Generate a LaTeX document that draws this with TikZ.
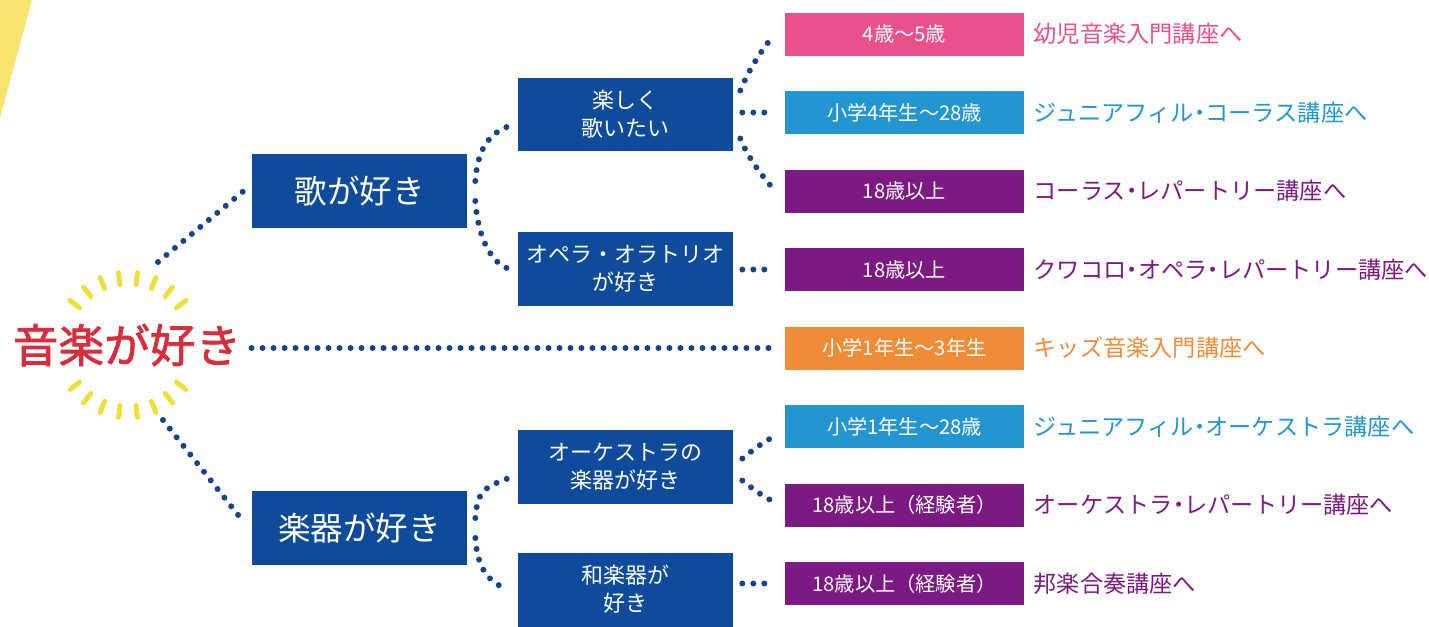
\documentclass[tikz,border=0pt]{standalone}
\usepackage{fontspec}
\setmainfont{Noto Sans CJK JP}
\newfontfamily\halffont{Noto Sans CJK JP}[RawFeature=+halt]
\newfontfamily\titlefont{Noto Sans CJK JP}[FakeBold=1.6]
\definecolor{boxnavy}{RGB}{14, 75, 155}
\definecolor{dotnavy}{RGB}{22, 68, 135}
\definecolor{agepink}{RGB}{233, 80, 140}
\definecolor{agesky}{RGB}{35, 150, 210}
\definecolor{agepurple}{RGB}{125, 25, 130}
\definecolor{ageorange}{RGB}{240, 140, 55}
\definecolor{mainred}{RGB}{215, 45, 60}
\definecolor{rayyellow}{RGB}{240, 222, 60}
\definecolor{stripeyellow}{RGB}{248, 228, 110}
\usetikzlibrary{positioning, calc}

\tikzset{
  dotline/.style={dotnavy, line width=0.12cm, line cap=round, dash pattern=on 0cm off 0.22cm},
  ray/.style={rayyellow, line width=0.1cm, line cap=round},
  wantbox/.style={fill=boxnavy, text=white, minimum width=4.3cm, minimum height=1.48cm, inner sep=0pt, align=center},
  agebox/.style={fill=#1, text=white, minimum width=4.78cm, minimum height=0.86cm, inner sep=0pt, font=\fontsize{11.5}{13}\selectfont},
  course/.style={text=#1, inner sep=0pt, font=\halffont\fontsize{13.2}{15}\selectfont},
}

\begin{document}
\begin{tikzpicture}[x=0.02cm, y=-0.02cm]
  \useasboundingbox (0,0) rectangle (1429,626);

  % Yellow stripe
  \fill[stripeyellow] (0,0) -- (32,0) -- (0,118) -- cycle;

  % Title with glow
  \coordinate (glow) at (128,345);
  \foreach \a in {37.5,52.5,...,142.5} {
    \draw[ray] ([shift={(\a:61)}]glow) -- ([shift={(\a:73)}]glow);
    \draw[ray] ([shift={(\a+180:61)}]glow) -- ([shift={(\a+180:73)}]glow);
  }
  \node[text=mainred, inner sep=0pt, font=\titlefont\fontsize{26}{30}\selectfont] (main) at (127,345) {音楽が好き};

  % First choice
  \node[wantbox, font=\fontsize{18.5}{20}\selectfont] (sing) at (359.5,191) {歌が好き};
  \node[wantbox, font=\fontsize{18.5}{20}\selectfont] (inst) at (359.5,528) {楽器が好き};

  % Second choice
  \node[wantbox, font=\fontsize{12.5}{16}\selectfont] (fun) at (625.5,114.5) {楽しく\\歌いたい};
  \node[wantbox, font=\fontsize{12.5}{16}\selectfont] (opera) at (625.5,268.5) {オペラ・オラトリオ\\が好き};
  \node[wantbox, font=\fontsize{12.5}{16}\selectfont] (orch) at (625.5,466.5) {オーケストラの\\楽器が好き};
  \node[wantbox, font=\fontsize{12.5}{16}\selectfont] (wagak) at (625.5,589.5) {和楽器が\\好き};

  % Ages
  \node[agebox=agepink] (a1) at (904.5,34) {4歳～5歳};
  \node[agebox=agesky] (a2) at (904.5,112.5) {小学4年生～28歳};
  \node[agebox=agepurple] (a3) at (904.5,191) {18歳以上};
  \node[agebox=agepurple] (a4) at (904.5,269.5) {18歳以上};
  \node[agebox=ageorange] (a5) at (904.5,348) {小学1年生～3年生};
  \node[agebox=agesky] (a6) at (904.5,426.5) {小学1年生～28歳};
  \node[agebox=agepurple] (a7) at (904.5,505) {18歳以上（経験者）};
  \node[agebox=agepurple] (a8) at (904.5,583.5) {18歳以上（経験者）};

  % Courses
  \node[course=agepink, right=0.18cm of a1] (c1) {幼児音楽入門講座へ};
  \node[course=agesky, right=0.18cm of a2] (c2) {ジュニアフィル・コーラス講座へ};
  \node[course=agepurple, right=0.18cm of a3] (c3) {コーラス・レパートリー講座へ};
  \node[course=agepurple, right=0.18cm of a4] (c4) {クワコロ・オペラ・レパートリー講座へ};
  \node[course=ageorange, right=0.18cm of a5] (c5) {キッズ音楽入門講座へ};
  \node[course=agesky, right=0.18cm of a6] (c6) {ジュニアフィル・オーケストラ講座へ};
  \node[course=agepurple, right=0.18cm of a7] (c7) {オーケストラ・レパートリー講座へ};
  \node[course=agepurple, right=0.18cm of a8] (c8) {邦楽合奏講座へ};

  % Root branches
  \draw[dotline] ([shift={(30,-83)}]glow) -- ([shift={(-8,0)}]sing.west);
  \draw[dotline] ($(main.east |- a5.west)+(10,0)$) -- ([shift={(-8,0)}]a5.west);
  \draw[dotline] ([shift={(35,75)}]glow) -- ([shift={(-8,-6)}]inst.west);

  % First -> second
  \draw[dotline] ([shift={(8,-10)}]sing.east) .. controls +(2,-30) and +(-20,8) .. ([shift={(-10,12)}]fun.west);
  \draw[dotline] ([shift={(8,10)}]sing.east) .. controls +(2,30) and +(-20,-8) .. ([shift={(-10,0)}]opera.west);
  \draw[dotline] ([shift={(8,-10)}]inst.east) .. controls +(2,-30) and +(-20,8) .. ([shift={(-10,12)}]orch.west);
  \draw[dotline] ([shift={(8,10)}]inst.east) .. controls +(2,30) and +(-20,-8) .. ([shift={(-10,0)}]wagak.west);

  % Second -> ages
  \draw[dotline] ([shift={(7,-24)}]fun.east) .. controls +(8,-20) and +(-10,12) .. ([shift={(-13,4)}]a1.west);
  \draw[dotline] ($(fun.east |- a2.west)+(9,0)$) -- ([shift={(-13,0)}]a2.west);
  \draw[dotline] ([shift={(7,24)}]fun.east) .. controls +(8,20) and +(-10,-12) .. ([shift={(-13,-4)}]a3.west);
  \draw[dotline] ($(opera.east |- a4.west)+(9,0)$) -- ([shift={(-13,0)}]a4.west);
  \draw[dotline] ([shift={(9,-8)}]orch.east) .. controls +(10,-8) and +(-10,4) .. ([shift={(-10,10)}]a6.west);
  \draw[dotline] ([shift={(9,14)}]orch.east) .. controls +(10,8) and +(-10,-4) .. ([shift={(-10,-3)}]a7.west);
  \draw[dotline] ($(wagak.east |- a8.west)+(9,0)$) -- ([shift={(-10,0)}]a8.west);
\end{tikzpicture}
\end{document}
